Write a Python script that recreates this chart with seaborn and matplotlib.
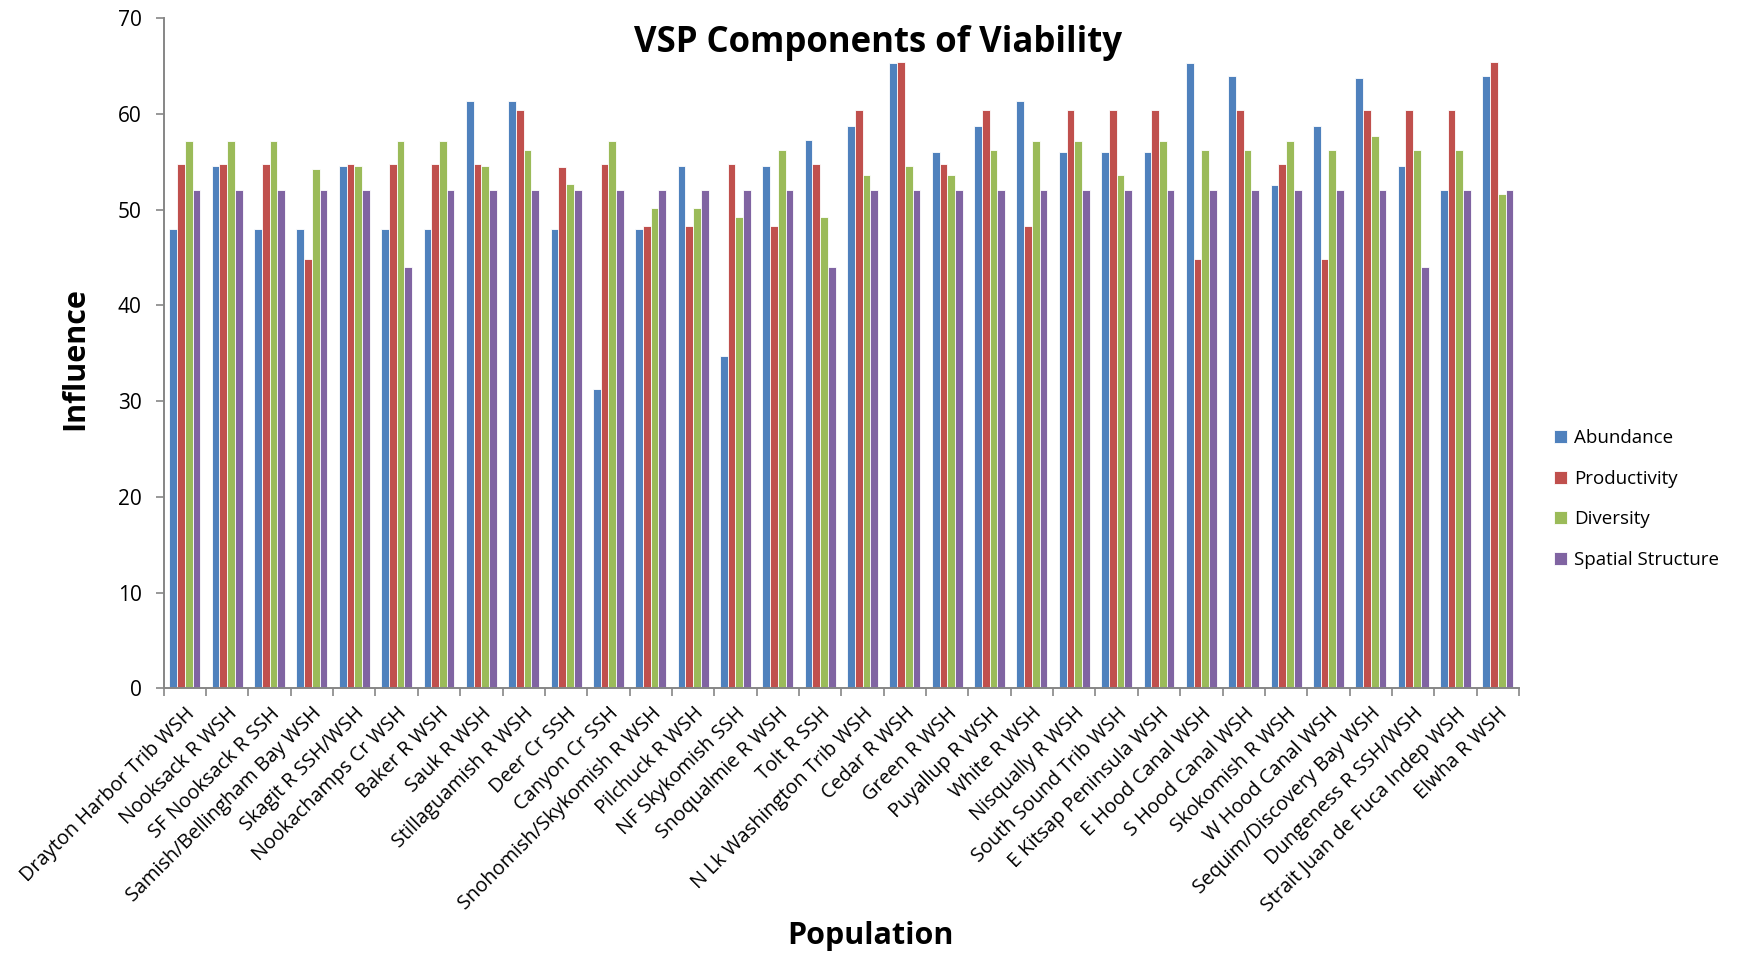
import matplotlib
matplotlib.use("Agg")
import matplotlib.pyplot as plt
import numpy as np
import pandas as pd
import seaborn as sns

# -- data --------------------------------------------------------------------

POPULATIONS = [
    "Drayton Harbor Trib WSH", "Nooksack R WSH", "SF Nooksack R SSH",
    "Samish/Bellingham Bay WSH", "Skagit R SSH/WSH", "Nookachamps Cr WSH",
    "Baker R WSH", "Sauk R WSH", "Stillaguamish R WSH", "Deer Cr SSH",
    "Canyon Cr SSH", "Snohomish/Skykomish R WSH", "Pilchuck R WSH",
    "NF Skykomish SSH", "Snoqualmie R WSH", "Tolt R SSH",
    "N Lk Washington Trib WSH", "Cedar R WSH", "Green R WSH",
    "Puyallup R WSH", "White R WSH", "Nisqually R WSH",
    "South Sound Trib WSH", "E Kitsap Peninsula WSH", "E Hood Canal WSH",
    "S Hood Canal WSH", "Skokomish R WSH", "W Hood Canal WSH",
    "Sequim/Discovery Bay WSH", "Dungeness R SSH/WSH",
    "Strait Juan de Fuca Indep WSH", "Elwha R WSH",
]

ABUNDANCE = [48.0, 54.6, 48.0, 48.0, 54.6, 48.0, 48.0, 61.3, 61.3, 48.0,
             31.3, 48.0, 54.6, 34.7, 54.6, 57.3, 58.7, 65.3, 56.0, 58.7,
             61.3, 56.0, 56.0, 56.0, 65.3, 64.0, 52.6, 58.7, 63.7, 54.6,
             52.0, 64.0]
PRODUCTIVITY = [54.8, 54.8, 54.8, 44.8, 54.8, 54.8, 54.8, 54.8, 60.4, 54.5,
                54.8, 48.3, 48.3, 54.8, 48.3, 54.8, 60.4, 65.4, 54.8, 60.4,
                48.3, 60.4, 60.4, 60.4, 44.8, 60.4, 54.8, 44.8, 60.4, 60.4,
                60.4, 65.4]
DIVERSITY = [57.2, 57.2, 57.2, 54.2, 54.6, 57.2, 57.2, 54.6, 56.2, 52.7,
             57.2, 50.2, 50.2, 49.2, 56.2, 49.2, 53.6, 54.6, 53.6, 56.2,
             57.2, 57.2, 53.6, 57.2, 56.2, 56.2, 57.2, 56.2, 57.7, 56.2,
             56.2, 51.6]
SPATIAL = [52, 52, 52, 52, 52, 44, 52, 52, 52, 52,
           52, 52, 52, 52, 52, 44, 52, 52, 52, 52,
           52, 52, 52, 52, 52, 52, 52, 52, 52, 44,
           52, 52]

COMPONENTS = ["Abundance", "Productivity", "Diversity", "Spatial Structure"]
COLORS = ["#4F81BD", "#C0504D", "#9BBB59", "#8064A2"]
Y_TICKS = [0, 10, 20, 30, 40, 50, 60, 70]

# -- long-form table ---------------------------------------------------------

df = pd.DataFrame({
    "Population": POPULATIONS * 4,
    "Component": np.repeat(COMPONENTS, len(POPULATIONS)),
    "Influence": ABUNDANCE + PRODUCTIVITY + DIVERSITY + SPATIAL,
})

sns.set_style("white")
plt.rcParams["font.family"] = ["Open Sans", "DejaVu Sans"]
plt.rcParams["text.color"] = "black"
plt.rcParams["xtick.color"] = "black"
plt.rcParams["ytick.color"] = "black"

fig = plt.figure(figsize=(17.45, 9.56), dpi=100)
ax = fig.add_axes([0.0938, 0.280, 0.7767, 0.701])

sns.barplot(
    data=df, x="Population", y="Influence", hue="Component",
    order=POPULATIONS, hue_order=COMPONENTS,
    palette=dict(zip(COMPONENTS, COLORS)),
    width=0.73, saturation=1, errorbar=None, linewidth=0.6,
    edgecolor="white", ax=ax,
)

ax.set_xlim(-0.5, len(POPULATIONS) - 0.5)
ax.set_ylim(0, 70)
ax.set_yticks(Y_TICKS)
ax.set_yticklabels([str(v) for v in Y_TICKS], fontsize=15)

ax.set_xticks(range(len(POPULATIONS)))
ax.set_xticklabels(POPULATIONS, rotation=45, ha="right",
                   rotation_mode="anchor", fontsize=14.3)
ax.set_xticks(np.arange(-0.5, len(POPULATIONS)), minor=True)
ax.tick_params(axis="x", which="major", length=0, pad=11)
ax.tick_params(axis="x", which="minor", length=6, width=1.2,
               color="#868686", direction="out")
ax.tick_params(axis="y", length=6, width=1.2, color="#868686",
               direction="out", pad=10, labelcolor="black")
ax.xaxis.set_tick_params(bottom=True, which="both")
ax.yaxis.set_tick_params(left=True)

for side in ["top", "right"]:
    ax.spines[side].set_visible(False)
for side in ["left", "bottom"]:
    ax.spines[side].set_color("#868686")
    ax.spines[side].set_linewidth(1.4)

ax.set_xlabel("")
ax.set_ylabel("")
fig.text(0.043, 0.625, "Influence", rotation=90, fontsize=22,
         fontweight="bold", ha="center", va="center")
fig.text(0.499, 0.021, "Population", fontsize=22, fontweight="bold",
         ha="center", va="center")
fig.text(0.503, 0.955, "VSP Components of Viability", fontsize=25,
         fontweight="bold", ha="center", va="center")

ax.legend(
    loc="center left", bbox_to_anchor=(0.885, 0.478),
    bbox_transform=fig.transFigure, frameon=False, fontsize=13.5,
    handlelength=0.7, handleheight=0.7, handletextpad=0.4,
    labelspacing=1.2, borderpad=0,
)

fig.savefig("out.png", dpi=100)
